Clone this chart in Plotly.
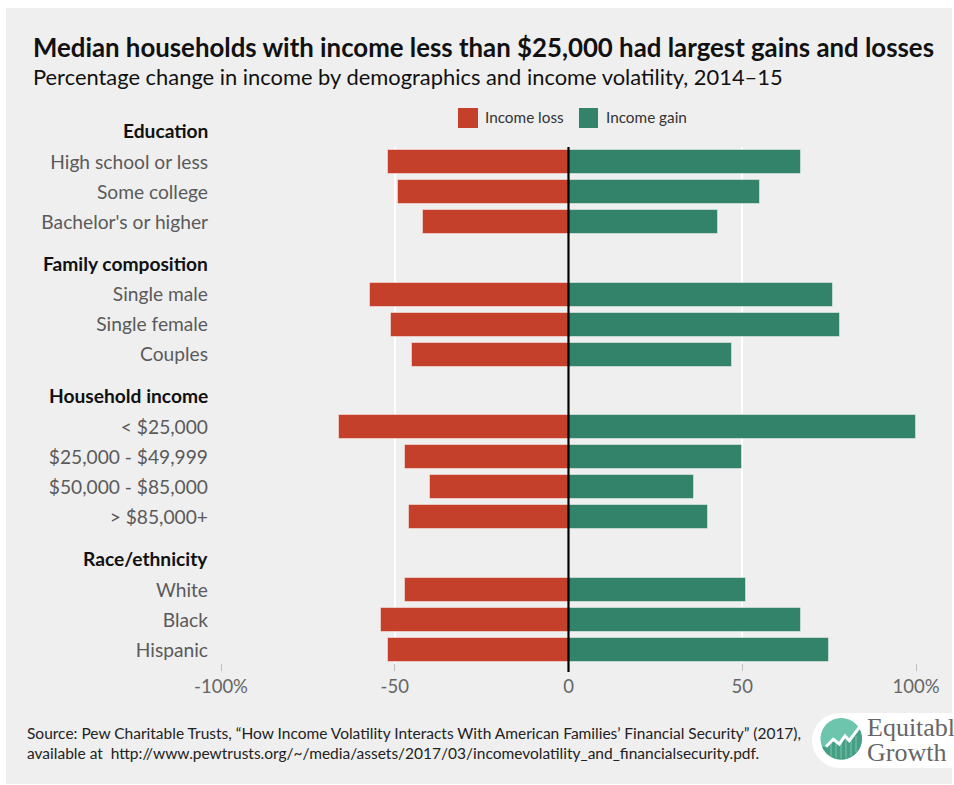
import numpy as np
import plotly.graph_objects as go

# ---- data -------------------------------------------------------------
group_names = ["Education", "Family composition", "Household income", "Race/ethnicity"]
group_sizes = [3, 3, 4, 3]
categories = [
    "High school or less", "Some college", "Bachelor's or higher",
    "Single male", "Single female", "Couples",
    "< $25,000", "$25,000 - $49,999", "$50,000 - $85,000", "> $85,000+",
    "White", "Black", "Hispanic",
]
income_loss = [-52, -49, -42, -57, -51, -45, -66, -47, -40, -46, -47, -54, -52]
income_gain = [67, 55, 43, 76, 78, 47, 100, 50, 36, 40, 51, 67, 75]
x_tick_values = [-100, -50, 0, 50, 100]
x_tick_labels = ["-100%", "-50", "0", "50", "100%"]

# ---- layout helpers ---------------------------------------------------
W, H = 954, 785
ML, MR, MT, MB = 221, 38, 147, 122
PW, PH = W - ML - MR, H - MT - MB


def px(x):
    return (x - ML) / PW


def py(y):
    return (H - MB - y) / PH


RED = "#c5402a"
GREEN = "#33836a"
PANEL = "#efefef"
FONT = "Lato"

# row positions: one unit per row, a wider gap between groups
GROUP_STEP = 2.42
row_pos, header_pos = [], []
cur = 0.0
for gi, n in enumerate(group_sizes):
    if gi:
        cur += GROUP_STEP - 1
    header_pos.append(cur - 1.05)
    for _ in range(n):
        row_pos.append(cur)
        cur += 1

Y_RANGE = [16.7, -0.5]


def row_to_paper(r):
    return (Y_RANGE[0] - r) / (Y_RANGE[0] - Y_RANGE[1])


fig = go.Figure()
bar_line = dict(color="rgba(255,255,255,0.45)", width=1)
fig.add_trace(go.Bar(y=row_pos, x=income_loss, orientation="h", width=0.8,
                     marker=dict(color=RED, line=bar_line), name="Income loss"))
fig.add_trace(go.Bar(y=row_pos, x=income_gain, orientation="h", width=0.8,
                     marker=dict(color=GREEN, line=bar_line), name="Income gain"))

shapes = [
    # grey panel behind everything
    dict(type="rect", xref="paper", yref="paper", x0=px(6), x1=px(952), y0=py(784), y1=py(8),
         fillcolor=PANEL, line=dict(width=0), layer="below"),
    # zero line, running down through the tick area
    dict(type="line", xref="x", yref="paper", x0=0, x1=0, y0=py(672), y1=1,
         line=dict(color="black", width=2.2), layer="above"),
    # legend swatches
    dict(type="rect", xref="paper", yref="paper", x0=px(458), x1=px(478), y0=py(128), y1=py(108),
         fillcolor=RED, line=dict(width=0)),
    dict(type="rect", xref="paper", yref="paper", x0=px(579), x1=px(598), y0=py(128), y1=py(108),
         fillcolor=GREEN, line=dict(width=0)),
]

# logo: white pill with a teal roundel
shapes += [
    dict(type="rect", xref="paper", yref="paper", x0=px(840), x1=px(990), y0=py(768), y1=py(713),
         fillcolor="white", line=dict(width=0)),
    dict(type="circle", xref="paper", yref="paper", x0=px(812), x1=px(868), y0=py(768), y1=py(713),
         fillcolor="white", line=dict(width=0)),
    dict(type="circle", xref="paper", yref="paper", x0=px(820.5), x1=px(862), y0=py(759.5), y1=py(718),
         fillcolor="#6cc5ac", line=dict(width=0)),
]
cx, cy, r = 841.2, 738.8, 20.7
zig = [(826, 746.7), (833.3, 739.3), (839.3, 744), (845, 736), (849.3, 740.7), (859.3, 727.3)]
ang = np.linspace(np.arctan2(727.3 - cy, 859.3 - cx), np.pi - np.arcsin((746.7 - cy) / r), 40)
arc = [(cx + r * np.cos(a), cy + r * np.sin(a)) for a in ang]
lower = zig + arc
path = "M " + " L ".join(f"{px(x):.5f},{py(y):.5f}" for x, y in lower) + " Z"
shapes.append(dict(type="path", xref="paper", yref="paper", path=path,
                   fillcolor="#44a084", line=dict(width=0)))
for sx in (831, 836, 841, 846, 851, 856):
    shapes.append(dict(type="line", xref="paper", yref="paper", x0=px(sx), x1=px(sx),
                       y0=py(cy + np.sqrt(max(r * r - (sx - cx) ** 2, 0)) - 1),
                       y1=py(742 if sx < 845 else 736),
                       line=dict(color="rgba(255,255,255,0.35)", width=1)))
zpath = "M " + " L ".join(f"{px(x):.5f},{py(y):.5f}" for x, y in zig)
shapes.append(dict(type="path", xref="paper", yref="paper", path=zpath,
                   line=dict(color="white", width=3)))

annotations = [
    dict(xref="paper", yref="paper", x=px(31), y=py(47), xanchor="left", yanchor="middle",
         text="<b>Median households with income less than $25,000 had largest gains and losses</b>",
         showarrow=False, font=dict(family=FONT, size=25.8, color="#111111")),
    dict(xref="paper", yref="paper", x=px(31), y=py(77), xanchor="left", yanchor="middle",
         text="Percentage change in income by demographics and income volatility, 2014\u201315",
         showarrow=False, font=dict(family=FONT, size=21.9, color="#111111")),
    dict(xref="paper", yref="paper", x=px(483), y=py(117), xanchor="left", yanchor="middle",
         text="Income loss", showarrow=False, font=dict(family=FONT, size=15.3, color="#333333")),
    dict(xref="paper", yref="paper", x=px(604), y=py(117), xanchor="left", yanchor="middle",
         text="Income gain", showarrow=False, font=dict(family=FONT, size=15.3, color="#333333")),
    dict(xref="paper", yref="paper", x=px(25), y=py(742.5), xanchor="left", yanchor="middle", align="left",
         text="Source: Pew Charitable Trusts, \u201cHow Income Volatility Interacts With American Families\u2019 "
              "Financial Security\u201d (2017),<br>available at  http://www.pewtrusts.org/~/media/assets/"
              "2017/03/incomevolatility_and_financialsecurity.pdf.",
         showarrow=False, font=dict(family=FONT, size=15.5, color="#222222")),
    dict(xref="paper", yref="paper", x=px(865), y=py(727), xanchor="left", yanchor="middle",
         text="Equitable", showarrow=False,
         font=dict(family="Liberation Serif", size=26, color="#666666")),
    dict(xref="paper", yref="paper", x=px(865), y=py(752), xanchor="left", yanchor="middle",
         text="Growth", showarrow=False,
         font=dict(family="Liberation Serif", size=26, color="#666666")),
]
for name, hp in zip(group_names, header_pos):
    annotations.append(dict(xref="paper", yref="paper", x=px(210), y=row_to_paper(hp),
                            xanchor="right", yanchor="middle",
                            text=f"<b>{name}</b>", showarrow=False,
                            font=dict(family=FONT, size=19.2, color="#111111")))

fig.update_layout(
    width=W, height=H,
    margin=dict(l=ML, r=MR, t=MT, b=MB, pad=0),
    paper_bgcolor="white", plot_bgcolor=PANEL,
    barmode="overlay", bargap=0, showlegend=False,
    shapes=shapes, annotations=annotations,
    font=dict(family=FONT),
    xaxis=dict(range=[-100, 100], tickvals=x_tick_values, ticktext=x_tick_labels,
               showgrid=True, gridcolor="white", gridwidth=1.6, zeroline=False,
               ticks="outside", ticklen=7, tickwidth=1, tickcolor="#bdbdbd",
               tickfont=dict(family=FONT, size=18.5, color="#666666"), showline=False, fixedrange=True),
    yaxis=dict(range=Y_RANGE, tickvals=row_pos, ticktext=categories,
               showgrid=False, zeroline=False, ticks="", ticklabelstandoff=12,
               tickfont=dict(family=FONT, size=19.2, color="#5a5a5a"), showline=False, fixedrange=True),
)

fig.write_html("out.html")
